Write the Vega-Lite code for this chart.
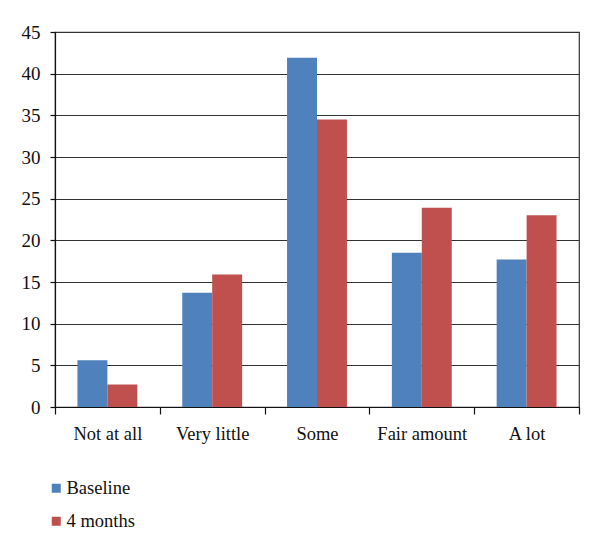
{
  "$schema": "https://vega.github.io/schema/vega-lite/v6.json",
  "autosize": "none",
  "width": 524,
  "height": 375,
  "padding": {"left": 55, "top": 32, "right": 21, "bottom": 146},
  "background": "white",
  "config": {
    "font": "Liberation Serif",
    "view": {"stroke": "#333333", "strokeWidth": 1.2},
    "axis": {"labelFont": "Liberation Serif", "labelFontSize": 18.5, "labelColor": "#111", "domainColor": "#111", "tickColor": "#111"}
  },
  "data": {
    "values": [
      {"category": "Not at all", "group": "Baseline", "value": 5.6},
      {"category": "Not at all", "group": "4 months", "value": 2.7},
      {"category": "Very little", "group": "Baseline", "value": 13.7},
      {"category": "Very little", "group": "4 months", "value": 15.9},
      {"category": "Some", "group": "Baseline", "value": 41.9},
      {"category": "Some", "group": "4 months", "value": 34.5},
      {"category": "Fair amount", "group": "Baseline", "value": 18.5},
      {"category": "Fair amount", "group": "4 months", "value": 23.9},
      {"category": "A lot", "group": "Baseline", "value": 17.7},
      {"category": "A lot", "group": "4 months", "value": 23.0}
    ]
  },
  "mark": {"type": "bar"},
  "encoding": {
    "x": {
      "field": "category", "type": "nominal",
      "sort": ["Not at all", "Very little", "Some", "Fair amount", "A lot"],
      "scale": {"paddingInner": 0, "paddingOuter": 0},
      "axis": {"title": null, "labelAngle": 0, "tickBand": "extent", "tickSize": 7, "labelPadding": 10, "domainWidth": 1.2, "tickWidth": 1.2, "grid": false}
    },
    "xOffset": {
      "field": "group", "type": "nominal",
      "sort": ["Baseline", "4 months"],
      "scale": {"paddingInner": 0, "paddingOuter": 0.75}
    },
    "y": {
      "field": "value", "type": "quantitative",
      "scale": {"domain": [0, 45], "nice": false},
      "axis": {"title": null, "values": [0, 5, 10, 15, 20, 25, 30, 35, 40, 45], "tickSize": 5, "labelPadding": 10, "labelFontSize": 19, "grid": true, "gridColor": "#333333", "gridWidth": 1.2, "gridOpacity": 1, "domainWidth": 1.2, "tickWidth": 1.2}
    },
    "color": {
      "field": "group", "type": "nominal",
      "sort": ["Baseline", "4 months"],
      "scale": {"domain": ["Baseline", "4 months"], "range": ["#4F81BD", "#C0504D"]},
      "legend": {
        "title": null, "orient": "none", "legendX": -8, "legendY": 447, "direction": "vertical",
        "padding": 0, "symbolType": "square", "symbolSize": 81, "symbolStrokeWidth": 0,
        "labelFont": "Liberation Serif", "labelFontSize": 18.5, "labelColor": "#111", "labelOffset": 1, "rowPadding": 14
      }
    }
  }
}
